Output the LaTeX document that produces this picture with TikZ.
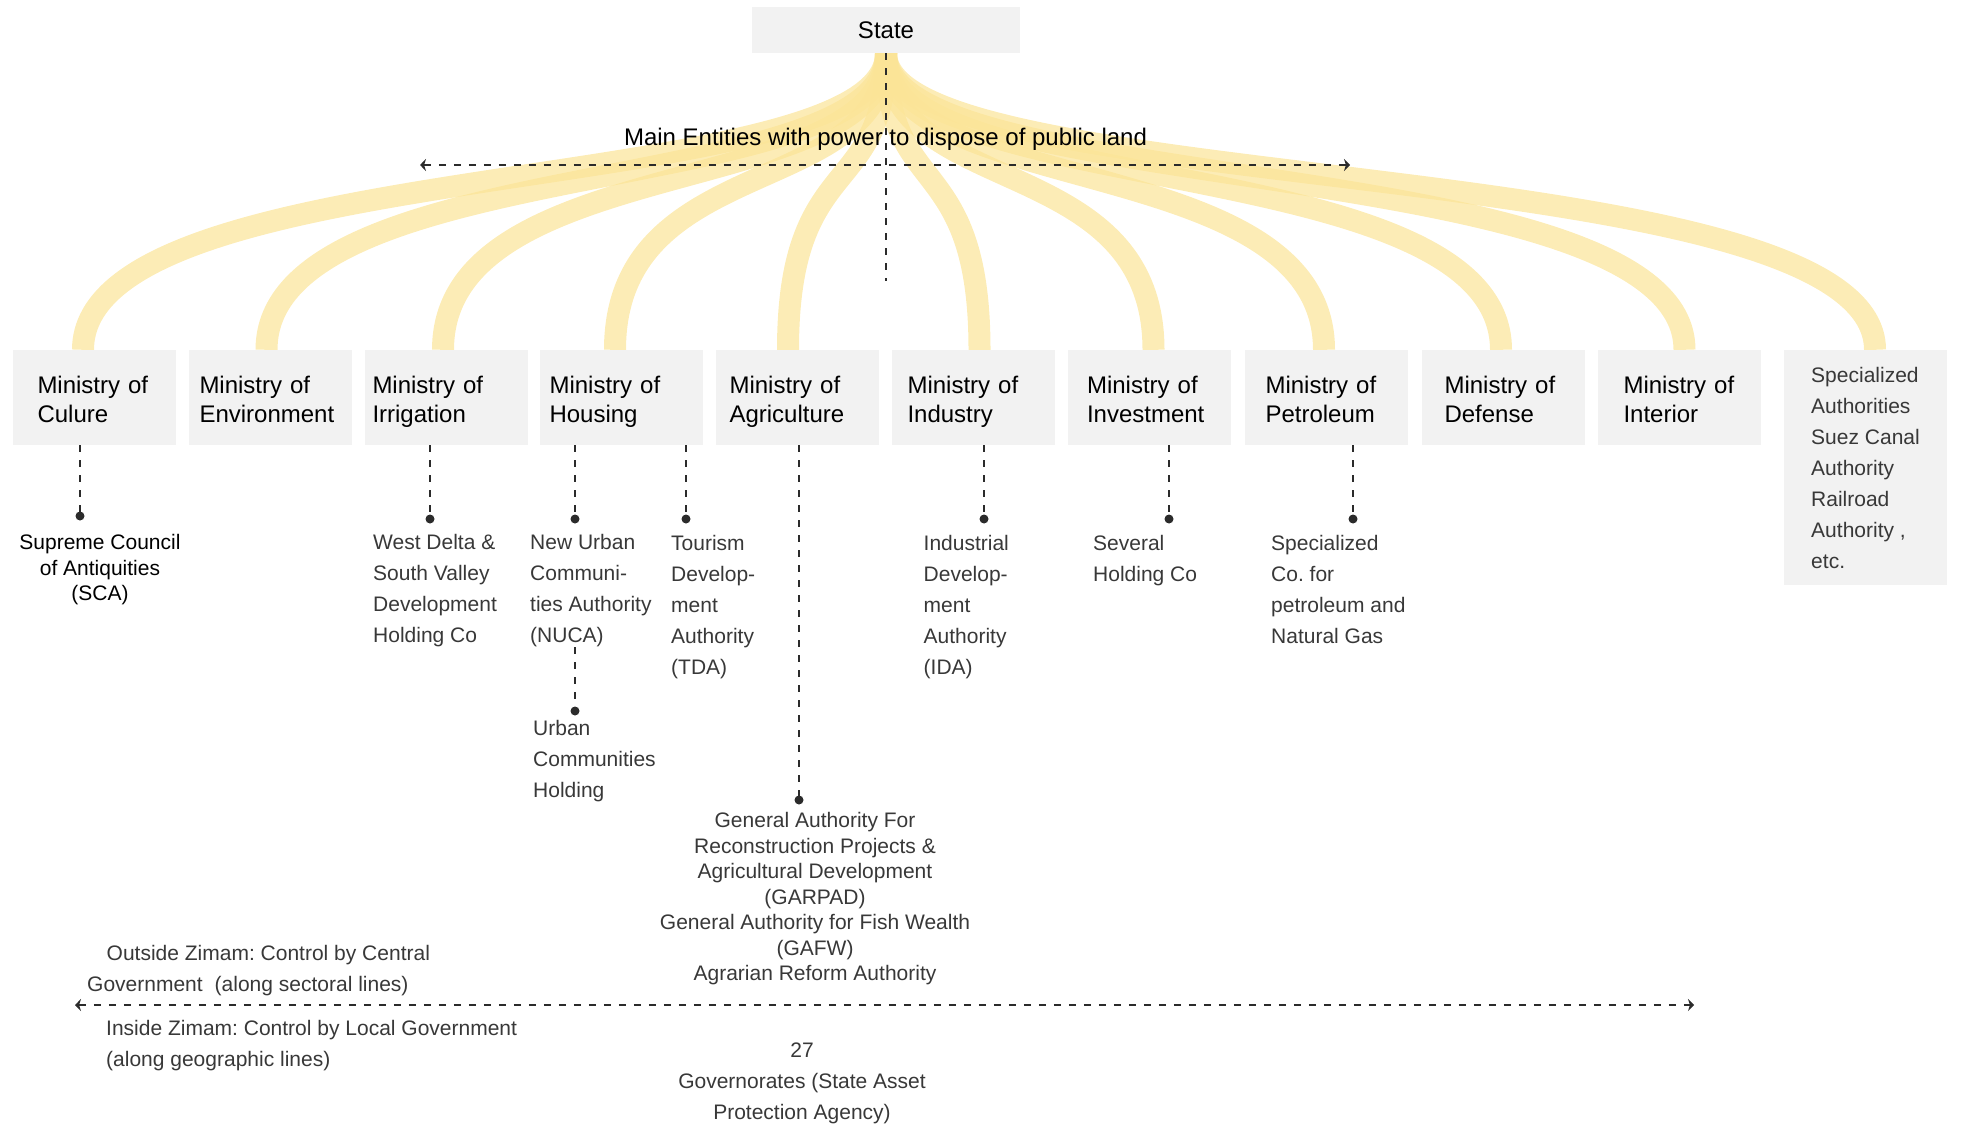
\documentclass[tikz,border=0pt]{standalone}
\usepackage{fontspec}
\setmainfont{Liberation Sans}
\usetikzlibrary{arrows.meta,backgrounds}
\definecolor{boxgray}{HTML}{F2F2F2}
\definecolor{bandyellow}{HTML}{FBE497}
\definecolor{dashgray}{HTML}{2B2B2B}
\definecolor{lighttext}{HTML}{383838}
\tikzset{>={Stealth[length=6pt,width=12pt]}}
\frenchspacing

\begin{document}
\begin{tikzpicture}[x=1pt,y=-1pt,
    band/.style={draw=bandyellow,draw opacity=0.7,line width=22pt},
    boxbase/.style={fill=boxgray,inner sep=0pt,minimum width=163pt},
    ministry/.style={boxbase,minimum height=95pt,align=left,text width=#1,
      font=\fontsize{24}{29}\selectfont,
      execute at begin node=\rule{0pt}{27.2pt},
      execute at end node=\rule[-6pt]{0pt}{6pt}},
    conn/.style={draw=dashgray,line width=1.8pt,dash pattern=on 7pt off 8pt},
    sub/.style={inner sep=0pt,align=left,anchor=north west,text=lighttext,
      font=\fontsize{21}{31}\selectfont},
    subc/.style={sub,align=center,anchor=north}]
    \useasboundingbox (0,0) rectangle (1961,1126);

    \node[boxbase,minimum width=268pt,minimum height=46pt,font=\fontsize{24}{29}\selectfont] (state) at (886,30) {State};
    \node[ministry=113pt] (cul) at (94,397.5) {Ministry of\\Culure};
    \node[ministry=141pt] (env) at (270,397.5) {Ministry of\\Environment};
    \node[ministry=147pt] (irr) at (446,397.5) {Ministry of\\Irrigation};
    \node[ministry=143pt] (hou) at (621,397.5) {Ministry of\\Housing};
    \node[ministry=136pt] (agr) at (797.5,397.5) {Ministry of\\Agriculture};
    \node[ministry=132pt] (ind) at (973.5,397.5) {Ministry of\\Industry};
    \node[ministry=125pt] (inv) at (1149.5,397.5) {Ministry of\\Investment};
    \node[ministry=121pt] (pet) at (1326,397.5) {Ministry of\\Petroleum};
    \node[ministry=117pt] (def) at (1503,397.5) {Ministry of\\Defense};
    \node[ministry=111pt] (int) at (1679,397.5) {Ministry of\\Interior};
    \node[boxbase,minimum height=235pt,align=left,text=lighttext,font=\fontsize{21}{31}\selectfont] (spe) at (1865.5,467.5)
      {Specialized\\Authorities\\Suez Canal\\Authority\\Railroad\\Authority ,\\etc.};

    % yellow bands from the state
    \begin{scope}[on background layer]
      \foreach \b/\dx in {cul/-11,env/-3.5,irr/-3,hou/-6,agr/-9.5,ind/6,inv/4,pet/-2,def/-2,int/5.5,spe/9.5}
        \draw[band] (state.south) .. controls +(0,147) and +(0,-200) .. ([xshift=\dx pt]\b.north);
    \end{scope}

    \node[font=\fontsize{24}{29}\selectfont,anchor=base] (mainTxt) at (885.5,145.5)
      {Main Entities with power to dispose of public land};
    \coordinate (mainL) at (420,165);
    \coordinate (mainR) at (1350,165);
    \coordinate (stemEnd) at (886,281);
    \draw[conn,<->] (mainL) -- (mainR);
    \draw[conn] (state.south) -- (stemEnd);

    % agencies under the ministries
    \node[subc,text=black,font=\fontsize{21}{25.5}\selectfont] (scaSub) at (100,534.5)
      {Supreme Council\\of Antiquities\\(SCA)};
    \node[sub] (irrSub) at (373,534.5) {West Delta \&\\South Valley\\Development\\Holding Co};
    \node[sub] (nucaSub) at (530,534.5) {New Urban\\Communi-\\ties Authority\\(NUCA)};
    \node[sub] (tdaSub) at (671,535.5) {Tourism\\Develop-\\ment\\Authority\\(TDA)};
    \node[sub] (idaSub) at (923.5,535.5) {Industrial\\Develop-\\ment\\Authority\\(IDA)};
    \node[sub] (invSub) at (1093,535) {Several\\Holding Co};
    \node[sub] (petSub) at (1271,535) {Specialized\\Co. for\\petroleum and\\Natural Gas};
    \node[sub] (ucSub) at (533,720.5) {Urban\\Communities\\Holding};
    \node[subc,font=\fontsize{21}{25.5}\selectfont] (agrSub) at (815,812.5)
      {General Authority For\\Reconstruction Projects \&\\Agricultural Development\\(GARPAD)\\General Authority for Fish Wealth\\(GAFW)\\Agrarian Reform Authority};

    \coordinate (dCul) at (80,516);
    \coordinate (dIrr) at (430,519);
    \coordinate (dNuca) at (575,519);
    \coordinate (dTda) at (686,519);
    \coordinate (dAgr) at (799,800);
    \coordinate (dInd) at (984,519);
    \coordinate (dInv) at (1169,519);
    \coordinate (dPet) at (1353,519);
    \coordinate (dUc) at (575,711);
    \foreach \b/\d in {cul/dCul,irr/dIrr,hou/dNuca,hou/dTda,agr/dAgr,ind/dInd,inv/dInv,pet/dPet}
      \draw[conn] (\b.south -| \d) -- (\d);
    \draw[conn] (nucaSub.south -| dUc) -- (dUc);
    \foreach \d in {dCul,dIrr,dNuca,dTda,dAgr,dInd,dInv,dPet,dUc}
      \fill[dashgray] (\d) circle (4.5);

    % zimam line
    \node[sub] (outTxt) at (87,945.5)
      {\hspace*{19.5pt}Outside Zimam: Control by Central\\Government\hspace{12pt}(along sectoral lines)};
    \coordinate (zimL) at (75,1005);
    \coordinate (zimR) at (1694,1005);
    \draw[conn,<->] (zimL) -- (zimR);
    \node[sub] (inTxt) at (106,1020.5)
      {Inside Zimam: Control by Local Government\\(along geographic lines)};
    \node[subc] (govSub) at (802,1042.5) {27\\Governorates (State Asset\\Protection Agency)};
\end{tikzpicture}
\end{document}
